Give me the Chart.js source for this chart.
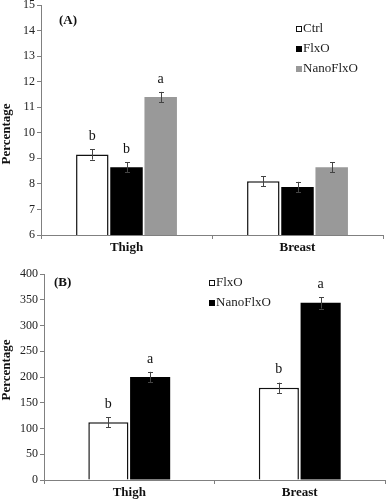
<!DOCTYPE html>
<html>
<head>
<meta charset="utf-8">
<script src="https://cdn.jsdelivr.net/npm/chart.js@4.4.0/dist/chart.umd.min.js"></script>
<style>
  html, body { margin: 0; padding: 0; background: #fff; }
  #wrap { position: relative; width: 386px; height: 500px; }
  .box { position: absolute; left: 0; width: 386px; }
  #boxA { top: 0; height: 262px; }
  #boxB { top: 250px; height: 250px; }
</style>
</head>
<body>
<div id="wrap">
  <div class="box" id="boxA"><canvas id="chartA"></canvas></div>
  <div class="box" id="boxB"><canvas id="chartB"></canvas></div>
</div>
<script>
const categories = ["Thigh", "Breast"];

// panel A
const ctrlA = [9.15, 8.1];
const flxoA = [8.65, 7.88];
const nanoA = [11.4, 8.65];
const ctrlAErr = [0.2, 0.2];
const flxoAErr = [0.2, 0.2];
const nanoAErr = [0.2, 0.2];
const ctrlALetters = ["b", ""];
const flxoALetters = ["b", ""];
const nanoALetters = ["a", ""];
const yTicksA = [6, 7, 8, 9, 10, 11, 12, 13, 14, 15];

// panel B
const flxoB = [112, 179];
const nanoB = [200, 344];
const flxoBErr = [10, 10];
const nanoBErr = [10, 11];
const flxoBLetters = ["b", "b"];
const nanoBLetters = ["a", "a"];
const yTicksB = [0, 50, 100, 150, 200, 250, 300, 350, 400];

const serif = "'Liberation Serif', 'Times New Roman', serif";

const errorLetters = {
  id: "errorLetters",
  afterDatasetsDraw(chart) {
    const ctx = chart.ctx;
    const y = chart.scales.y;
    ctx.save();
    chart.data.datasets.forEach((ds, i) => {
      const meta = chart.getDatasetMeta(i);
      meta.data.forEach((bar, j) => {
        const v = ds.data[j];
        const e = ds.errors[j];
        const top = y.getPixelForValue(v + e);
        const bot = y.getPixelForValue(v - e);
        const x = Math.round(bar.x) + 0.5;
        ctx.strokeStyle = "#444";
        ctx.lineWidth = 1;
        ctx.beginPath();
        ctx.moveTo(x, top); ctx.lineTo(x, bot);
        ctx.moveTo(x - 2.5, Math.round(top) + 0.5); ctx.lineTo(x + 2.5, Math.round(top) + 0.5);
        ctx.moveTo(x - 2.5, Math.round(bot) + 0.5); ctx.lineTo(x + 2.5, Math.round(bot) + 0.5);
        ctx.stroke();
        const l = ds.letters[j];
        if (l) {
          ctx.fillStyle = "#111";
          ctx.font = "14px " + serif;
          ctx.textAlign = "center";
          ctx.textBaseline = "middle";
          ctx.fillText(l, bar.x, top - 13);
        }
      });
    });
    ctx.restore();
  }
};

const boxLegend = {
  id: "boxLegend",
  afterDraw(chart, args, opts) {
    const ctx = chart.ctx;
    ctx.save();
    ctx.font = "13px " + serif;
    ctx.textBaseline = "middle";
    ctx.textAlign = "left";
    chart.data.datasets.forEach((ds, i) => {
      const cy = opts.y + i * opts.gap;
      ctx.fillStyle = ds.backgroundColor;
      ctx.fillRect(opts.x, cy - 3, 6, 6);
      if (ds.borderWidth) {
        ctx.strokeStyle = ds.borderColor;
        ctx.lineWidth = 1;
        ctx.strokeRect(opts.x + 0.5, cy - 2.5, 5, 5);
      }
      ctx.fillStyle = "#222";
      ctx.fillText(ds.label, opts.x + 7, cy);
    });
    ctx.font = "bold 13px " + serif;
    ctx.fillStyle = "#111";
    ctx.fillText(opts.panel, opts.px, opts.py);
    // y axis title
    ctx.translate(7, opts.ty);
    ctx.rotate(-Math.PI / 2);
    ctx.textAlign = "center";
    ctx.fillText("Percentage", 0, 0);
    ctx.restore();
  }
};

function axes(min, max, ticks, yWidth, xHeight) {
  return {
    x: {
      grid: { drawOnChartArea: false, drawTicks: true, tickLength: 4, color: "#808080", offset: true },
      border: { color: "#808080", width: 1 },
      ticks: { color: "#111", font: { family: serif, size: 13, weight: "bold" }, padding: 1 },
      afterFit(s) { s.height = xHeight; }
    },
    y: {
      min: min, max: max,
      afterBuildTicks(s) { s.ticks = ticks.map(v => ({ value: v })); },
      grid: { drawOnChartArea: false, drawTicks: true, tickLength: 4, color: "#808080" },
      border: { color: "#808080", width: 1 },
      ticks: { color: "#222", font: { family: serif, size: 12 }, padding: 2 },
      afterFit(s) { s.width = yWidth; s.paddingTop = 0; s.paddingBottom = 0; }
    }
  };
}

new Chart(document.getElementById("chartA").getContext("2d"), {
  type: "bar",
  data: {
    labels: categories,
    datasets: [
      { label: "Ctrl", data: ctrlA, errors: ctrlAErr, letters: ctrlALetters,
        backgroundColor: "#ffffff", borderColor: "#111", borderWidth: 1.5 },
      { label: "FlxO", data: flxoA, errors: flxoAErr, letters: flxoALetters,
        backgroundColor: "#000000", borderWidth: 0 },
      { label: "NanoFlxO", data: nanoA, errors: nanoAErr, letters: nanoALetters,
        backgroundColor: "#999999", borderWidth: 0 }
    ]
  },
  options: {
    responsive: true,
    maintainAspectRatio: false,
    animation: false,
    categoryPercentage: 0.6,
    barPercentage: 0.95,
    layout: { padding: { top: 5, right: 3, left: 0, bottom: 0 } },
    scales: axes(6, 15, yTicksA, 41, 27),
    plugins: {
      legend: { display: false },
      tooltip: { enabled: false },
      boxLegend: { x: 296, y: 29, gap: 20, panel: "(A)", px: 59, py: 21, ty: 134 }
    }
  },
  plugins: [errorLetters, boxLegend]
});

new Chart(document.getElementById("chartB").getContext("2d"), {
  type: "bar",
  data: {
    labels: categories,
    datasets: [
      { label: "FlxO", data: flxoB, errors: flxoBErr, letters: flxoBLetters,
        backgroundColor: "#ffffff", borderColor: "#111", borderWidth: 1.5 },
      { label: "NanoFlxO", data: nanoB, errors: nanoBErr, letters: nanoBLetters,
        backgroundColor: "#000000", borderWidth: 0 }
    ]
  },
  options: {
    responsive: true,
    maintainAspectRatio: false,
    animation: false,
    categoryPercentage: 0.49,
    barPercentage: 0.96,
    layout: { padding: { top: 24, right: 1, left: 0, bottom: 0 } },
    scales: axes(0, 400, yTicksB, 44, 20),
    plugins: {
      legend: { display: false },
      tooltip: { enabled: false },
      boxLegend: { x: 209, y: 33, gap: 20, panel: "(B)", px: 54, py: 33, ty: 120 }
    }
  },
  plugins: [errorLetters, boxLegend]
});
</script>
</body>
</html>
